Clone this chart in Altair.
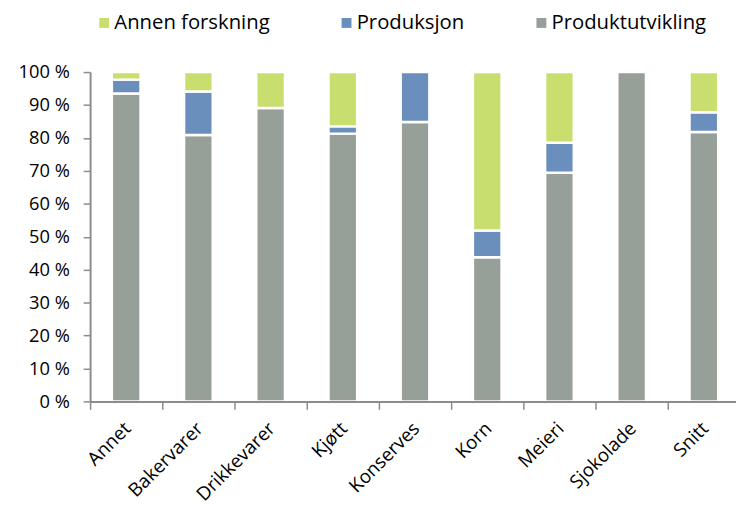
import altair as alt
import pandas as pd

categories = ["Annet", "Bakervarer", "Drikkevarer", "Kjøtt", "Konserves", "Korn", "Meieri", "Sjokolade", "Snitt"]
series = ["Annen forskning", "Produksjon", "Produktutvikling"]
produktutvikling = [93.5, 80.9, 89.1, 81.3, 84.8, 43.8, 69.4, 100.0, 81.8]
produksjon = [4.2, 13.2, 0.0, 2.2, 15.2, 8.1, 9.1, 0.0, 6.0]
annen_forskning = [2.3, 5.9, 10.9, 16.5, 0.0, 48.1, 21.5, 0.0, 12.2]
colors = ["#C8DE6E", "#6B8FBD", "#979F99"]

rows = []
for i, c in enumerate(categories):
    for s, vals, o in [("Produktutvikling", produktutvikling, 0),
                       ("Produksjon", produksjon, 1),
                       ("Annen forskning", annen_forskning, 2)]:
        if vals[i] > 0:
            rows.append({"Kategori": c, "Serie": s, "Andel": vals[i], "ord": o})
df = pd.DataFrame(rows)

FONT = "Open Sans"

chart = alt.Chart(df).mark_bar(stroke="white", strokeWidth=2.5, width=29).encode(
    x=alt.X("Kategori:N", sort=categories, title=None,
            scale=alt.Scale(paddingInner=0, paddingOuter=0, range=[0, 657]),
            axis=alt.Axis(labelAngle=-45, labelAlign="right", labelBaseline="middle",
                          labelPadding=16, labelOffset=1, tickBand="extent", tickSize=8,
                          labelFontSize=19, labelFont=FONT, labelColor="#000000",
                          domainColor="#8C8C8C", tickColor="#8C8C8C",
                          domainWidth=2, tickWidth=1.5, zindex=1)),
    y=alt.Y("Andel:Q", stack="zero", title=None,
            scale=alt.Scale(domain=[0, 100], nice=False),
            axis=alt.Axis(values=list(range(0, 101, 10)), labelExpr="datum.value + ' %'",
                          tickSize=7, labelPadding=14, grid=False,
                          labelFontSize=18.5, labelFont=FONT, labelColor="#000000",
                          domainColor="#8C8C8C", tickColor="#8C8C8C",
                          domainWidth=2, tickWidth=1.5, zindex=1)),
    color=alt.Color("Serie:N", scale=alt.Scale(domain=series, range=colors), title=None,
                    legend=alt.Legend(orient="none", legendX=4, legendY=-60, direction="horizontal",
                                      columns=3, columnPadding=67, symbolType="square",
                                      symbolSize=100, symbolStrokeWidth=0, symbolOffset=0,
                                      labelOffset=0, labelFontSize=20.5, labelFont=FONT,
                                      labelColor="#000000", labelLimit=300)),
    order=alt.Order("ord:Q", sort="ascending"),
).properties(
    width=653, height=333,
    autosize=alt.AutoSizeParams(type="none"),
    padding={"left": 83, "top": 62, "right": 0, "bottom": 104},
).configure_view(stroke=None)

chart.save("out.html", embed_options={"renderer": "svg", "actions": False})
